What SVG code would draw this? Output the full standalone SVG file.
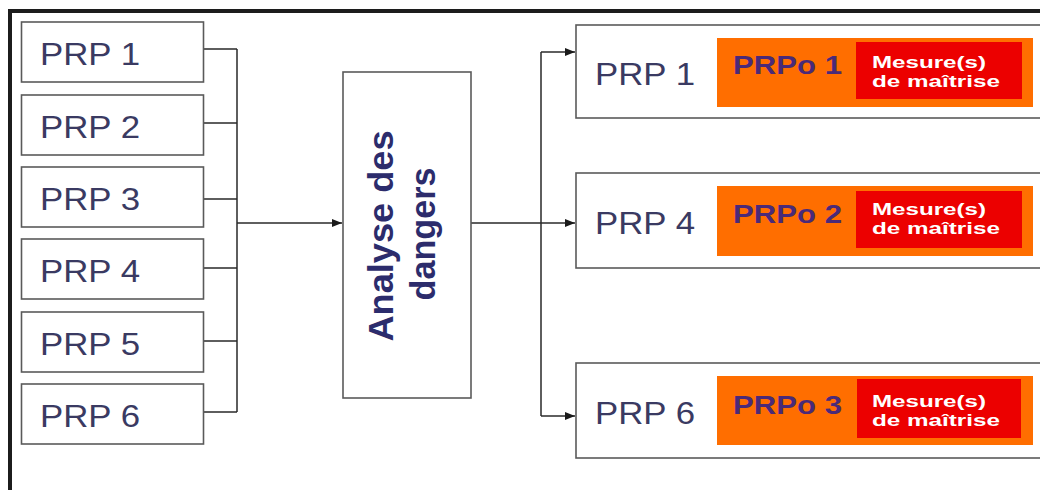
<svg xmlns="http://www.w3.org/2000/svg" width="1040" height="490" viewBox="0 0 1040 490">
<style>
.box{fill:#ffffff;stroke:#5a5a5a;stroke-width:1.6}
.prp{font-family:"Liberation Sans",Arial,sans-serif;font-size:32px;fill:#3a3a62}
.ana{font-family:"Liberation Sans",Arial,sans-serif;font-size:35px;font-weight:bold;fill:#2c2c6c}
.orange{fill:#ff6e00}
.red{fill:#ec0000}
.prpo{font-family:"Liberation Sans",Arial,sans-serif;font-size:26px;font-weight:bold;fill:#4a2a78}
.mes{font-family:"Liberation Sans",Arial,sans-serif;font-size:17px;font-weight:bold;fill:#ffffff}
.con{fill:none;stroke:#2a2a2a;stroke-width:1.5}
</style>
<defs>
<marker id="arr" markerWidth="10" markerHeight="8" refX="10" refY="4" orient="auto" markerUnits="userSpaceOnUse">
<path d="M0,0 L10,4 L0,8 Z" fill="#1a1a1a"/>
</marker>
</defs>
<rect x="0" y="0" width="1040" height="490" fill="#ffffff"/>
<g id="frame">
<path d="M10,490 V11 H1040" fill="none" stroke="#1c1c1c" stroke-width="4"/>
</g>
<g id="connectors">
<path class="con" d="M203,49 H237 M203,123 H237 M203,199 H237 M203,268 H237 M203,341 H237 M203,412 H237 M237,49 V412"/>
<path class="con" d="M237,223 H342" marker-end="url(#arr)"/>
<path class="con" d="M471,223 H541 M541,52 V416"/>
<path class="con" d="M541,52 H575" marker-end="url(#arr)"/>
<path class="con" d="M541,223 H575" marker-end="url(#arr)"/>
<path class="con" d="M541,416 H575" marker-end="url(#arr)"/>
</g>
<g id="prp1"><rect class="box" x="21.5" y="22" width="182" height="60"/><text class="prp" x="40" y="65" textLength="100" lengthAdjust="spacingAndGlyphs">PRP 1</text></g>
<g id="prp2"><rect class="box" x="21.5" y="95" width="182" height="60"/><text class="prp" x="40" y="138" textLength="100" lengthAdjust="spacingAndGlyphs">PRP 2</text></g>
<g id="prp3"><rect class="box" x="21.5" y="167" width="182" height="60"/><text class="prp" x="40" y="210" textLength="100" lengthAdjust="spacingAndGlyphs">PRP 3</text></g>
<g id="prp4"><rect class="box" x="21.5" y="239" width="182" height="60"/><text class="prp" x="40" y="282" textLength="100" lengthAdjust="spacingAndGlyphs">PRP 4</text></g>
<g id="prp5"><rect class="box" x="21.5" y="312" width="182" height="60"/><text class="prp" x="40" y="355" textLength="100" lengthAdjust="spacingAndGlyphs">PRP 5</text></g>
<g id="prp6"><rect class="box" x="21.5" y="384" width="182" height="60"/><text class="prp" x="40" y="427" textLength="100" lengthAdjust="spacingAndGlyphs">PRP 6</text></g>
<g id="analyse">
<rect class="box" x="343" y="72" width="128" height="326"/>
<text class="ana" transform="translate(393,236) rotate(-90)" text-anchor="middle" textLength="211" lengthAdjust="spacingAndGlyphs">Analyse des</text>
<text class="ana" transform="translate(435,234) rotate(-90)" text-anchor="middle" textLength="133" lengthAdjust="spacingAndGlyphs">dangers</text>
</g>
<g id="out1">
<rect class="box" x="576" y="25" width="480" height="93"/>
<text class="prp" x="595" y="85" textLength="100" lengthAdjust="spacingAndGlyphs">PRP 1</text>
<rect class="orange" x="717" y="38" width="316" height="69"/>
<rect class="red" x="856" y="42" width="166" height="57"/>
<text class="prpo" x="733" y="74" textLength="109" lengthAdjust="spacingAndGlyphs">PRPo 1</text>
<text class="mes" x="872" y="68" textLength="114" lengthAdjust="spacingAndGlyphs">Mesure(s)</text>
<text class="mes" x="872" y="87" textLength="128" lengthAdjust="spacingAndGlyphs">de maîtrise</text>
</g>
<g id="out2">
<rect class="box" x="576" y="173" width="480" height="95"/>
<text class="prp" x="595" y="234" textLength="100" lengthAdjust="spacingAndGlyphs">PRP 4</text>
<rect class="orange" x="717" y="186" width="316" height="70"/>
<rect class="red" x="856" y="191" width="166" height="57"/>
<text class="prpo" x="733" y="223" textLength="109" lengthAdjust="spacingAndGlyphs">PRPo 2</text>
<text class="mes" x="872" y="215" textLength="114" lengthAdjust="spacingAndGlyphs">Mesure(s)</text>
<text class="mes" x="872" y="234" textLength="128" lengthAdjust="spacingAndGlyphs">de maîtrise</text>
</g>
<g id="out3">
<rect class="box" x="576" y="363" width="480" height="95"/>
<text class="prp" x="595" y="424" textLength="100" lengthAdjust="spacingAndGlyphs">PRP 6</text>
<rect class="orange" x="717" y="376" width="316" height="69"/>
<rect class="red" x="857" y="379" width="164" height="59"/>
<text class="prpo" x="733" y="414" textLength="109" lengthAdjust="spacingAndGlyphs">PRPo 3</text>
<text class="mes" x="872" y="407" textLength="114" lengthAdjust="spacingAndGlyphs">Mesure(s)</text>
<text class="mes" x="872" y="426" textLength="128" lengthAdjust="spacingAndGlyphs">de maîtrise</text>
</g>
</svg>
